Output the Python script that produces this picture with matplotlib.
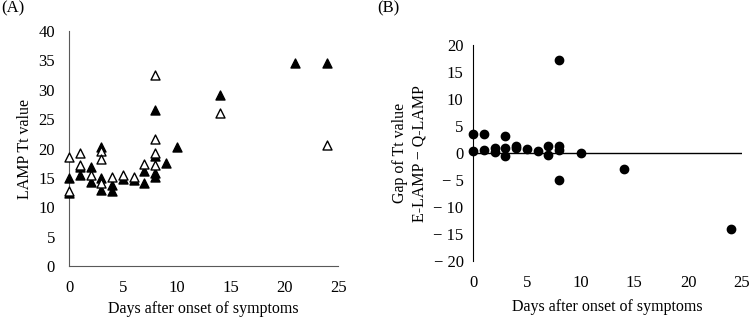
import matplotlib
matplotlib.use('Agg')
import matplotlib.pyplot as plt

plt.rcParams['font.family'] = ['Liberation Serif', 'DejaVu Serif']

# (A) LAMP Tt values
q_days = [0, 0, 1, 1, 2, 2, 3, 3, 3, 4, 4, 5, 6, 7, 7, 8, 8, 8, 8, 9, 10, 14, 21, 24]
q_tt = [14.9, 12.4, 16.8, 15.5, 16.9, 14.3, 20.3, 14.9, 12.9, 13.8, 12.7, 14.8, 14.6,
        16.1, 14.2, 26.6, 18.7, 15.8, 15.2, 17.6, 20.3, 29.1, 34.5, 34.5]
e_days = [0, 0, 1, 1, 2, 3, 3, 3, 4, 5, 6, 7, 8, 8, 8, 8, 14, 24]
e_tt = [18.6, 12.8, 19.2, 17.2, 15.5, 19.6, 18.2, 14.1, 15.2, 15.5, 15.2, 17.4,
        32.5, 21.7, 19.2, 17.2, 26.1, 20.6]

# (B) gap E-LAMP - Q-LAMP
gap_days = [0, 0, 1, 1, 2, 2, 3, 3, 3, 4, 4, 5, 6, 7, 7, 8, 8, 8, 8, 10, 14, 24]
gap_val = [3.6, 0.4, 3.6, 0.6, 1.0, 0.2, 3.2, 1.0, -0.5, 1.4, 1.0, 0.7, 0.4,
           1.4, -0.3, 17.2, 1.4, 0.55, -5.0, 0.0, -3.0, -14.0]

a_yticks = [0, 5, 10, 15, 20, 25, 30, 35, 40]
b_yticks = [-20, -15, -10, -5, 0, 5, 10, 15, 20]
xticks = [0, 5, 10, 15, 20, 25]

fs = 12
lfs = 11.5
fig = plt.figure(figsize=(7.5, 3.18), dpi=100)

ax1 = fig.add_axes([0.092, 0.164, 0.359, 0.738])
ax1.scatter(q_days, q_tt, marker='^', s=42, color='black', zorder=3, clip_on=False)
ax1.scatter(e_days, e_tt, marker='^', s=42, facecolor='white', edgecolor='black',
            linewidth=1.0, zorder=3, clip_on=False)
ax1.set_xlim(0, 25)
ax1.set_ylim(0, 40)
ax1.set_xticks(xticks)
ax1.set_yticks(a_yticks)
for s in ['top', 'right']:
    ax1.spines[s].set_visible(False)
for s in ['left', 'bottom']:
    ax1.spines[s].set_color('#595959')
ax1.tick_params(length=0, labelsize=fs, pad=10)
ax1.set_ylabel('LAMP Tt value', fontsize=lfs)
ax1.set_xlabel('Days after onset of symptoms', fontsize=lfs, labelpad=4)
fig.text(0.002, 0.975, '(A)', fontsize=fs, va='center', ha='left')

ax2 = fig.add_axes([0.631, 0.179, 0.358, 0.679])
ax2.scatter(gap_days, gap_val, marker='o', s=36, color='black', zorder=3, clip_on=False)
ax2.set_xlim(0, 25)
ax2.set_ylim(-20, 20)
ax2.set_xticks(xticks)
ax2.set_yticks(b_yticks)
ax2.set_yticklabels([('− %d' % -v) if v < 0 else str(v) for v in b_yticks])
for s in ['top', 'right', 'bottom']:
    ax2.spines[s].set_visible(False)
ax2.spines['left'].set_color('black')
ax2.axhline(0, color='black', lw=1.0, zorder=1)
ax2.tick_params(length=0, labelsize=fs)
ax2.tick_params(axis='x', pad=10)
ax2.tick_params(axis='y', pad=7)
ax2.set_ylabel('Gap of Tt value\nE-LAMP − Q-LAMP', fontsize=lfs, linespacing=1.3)
ax2.set_xlabel('Days after onset of symptoms', fontsize=lfs, labelpad=6)
fig.text(0.503, 0.975, '(B)', fontsize=fs, va='center', ha='left')

fig.savefig('out.png', dpi=100)
